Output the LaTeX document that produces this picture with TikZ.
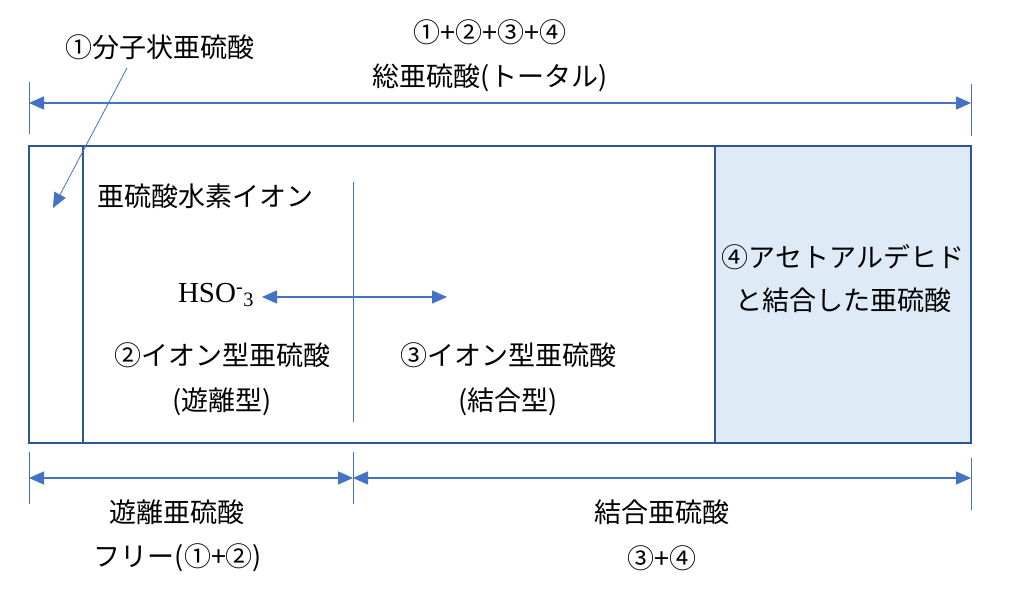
\documentclass[tikz,border=0pt]{standalone}
\usepackage{fontspec}
\setmainfont{Liberation Serif}
\newfontfamily\jp{Noto Sans CJK JP}
\usetikzlibrary{arrows.meta}
\definecolor{boxblue}{HTML}{2F5597}
\definecolor{arrblue}{HTML}{4472C4}
\definecolor{cellfill}{HTML}{DEEAF6}
\begin{document}
\begin{tikzpicture}[x=1pt,y=-1pt,
  lbl/.style={inner sep=0pt,font=\jp\fontsize{27}{31}\selectfont},
  cellbox/.style={draw=boxblue,line width=2.8pt},
  arr/.style={draw=arrblue,line width=1.1pt,-{Triangle[length=15pt,width=13pt]}},
  darr/.style={draw=arrblue,line width=1.1pt,{Triangle[length=15pt,width=13pt]}-{Triangle[length=15pt,width=13pt]}},
  tick/.style={draw=arrblue,line width=1pt}]
\useasboundingbox (0,0) rectangle (1011,593);
% cells
\filldraw[cellbox,fill=cellfill] (715,146) rectangle (971,443);
\draw[cellbox] (29,146) rectangle (971,443);
\draw[cellbox] (83,146) -- (83,443);
\draw[draw=arrblue,line width=1pt] (353,182) -- (353,422);
% top dimension
\coordinate (tL) at (29,103);
\coordinate (tR) at (971,103);
\draw[tick] (29,82) -- (29,134);
\draw[tick] (971,84) -- (971,136);
\draw[darr] (tL) -- (tR);
\node[lbl] (tot1) at (490,32) {①+②+③+④};
\node[lbl] (tot2) at (490,78) {総亜硫酸(トータル)};
% molecular
\node[lbl] (mol) at (160,47) {①分子状亜硫酸};
\coordinate (molS) at (127,68);
\coordinate (molE) at (53,208);
\draw[arr,line width=0.8pt] (molS) -- (molE);
% ionic
\node[lbl,anchor=west] (hyd) at (97,196) {亜硫酸水素イオン};
\node[inner sep=0pt,font=\fontsize{29}{33}\selectfont] (hso) at (216,295) {HSO\textsuperscript{-}\textsubscript{3}};
\coordinate (hL) at (262,297);
\coordinate (hR) at (447,297);
\draw[darr] (hL) -- (hR);
\node[lbl] (ion2) at (222,355) {②イオン型亜硫酸};
\node[lbl] (free2) at (222,402) {(遊離型)};
\node[lbl] (ion3) at (508,355) {③イオン型亜硫酸};
\node[lbl] (bnd3) at (508,402) {(結合型)};
\node[lbl] (ald1) at (843,257) {④アセトアルデヒド};
\node[lbl] (ald2) at (843,300) {と結合した亜硫酸};
% bottom dimensions
\coordinate (bL) at (29,478);
\coordinate (bM) at (353,478);
\coordinate (bR) at (971,478);
\draw[tick] (29,452) -- (29,504);
\draw[tick] (353,452) -- (353,504);
\draw[tick] (971,458) -- (971,510);
\draw[darr] (bL) -- (bM);
\draw[darr] (bM) -- (bR);
\node[lbl] (free) at (177,512) {遊離亜硫酸};
\node[lbl] (freeS) at (178,558) {フリー(①+②)};
\node[lbl] (bnd) at (662,512) {結合亜硫酸};
\node[lbl] (bndS) at (662,558) {③+④};
\end{tikzpicture}
\end{document}
